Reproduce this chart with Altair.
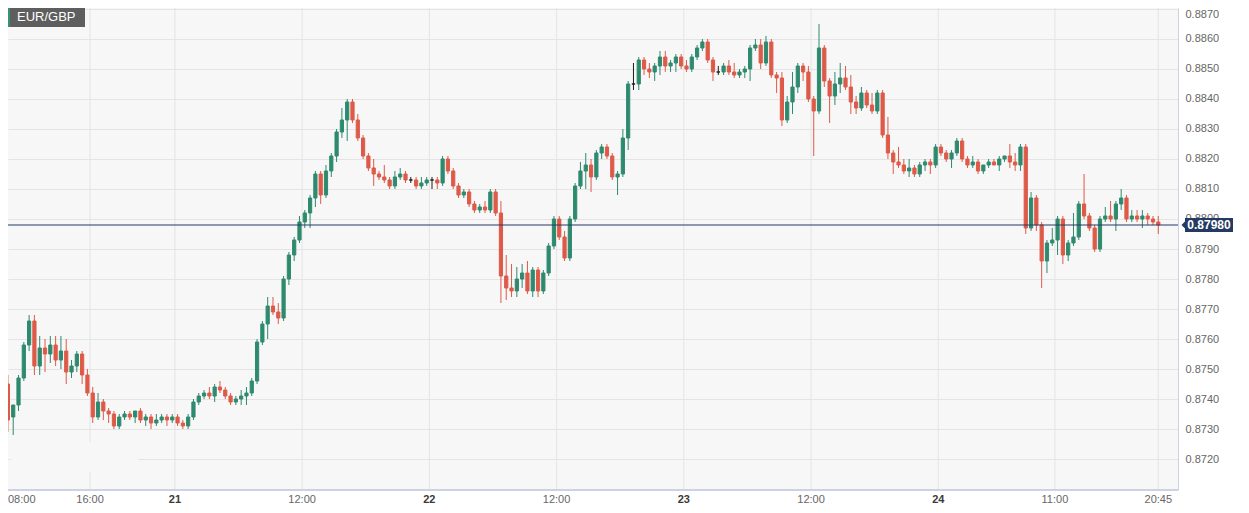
import altair as alt
import pandas as pd
import numpy as np

GREEN = "#2e8a6e"
RED = "#de5a48"
DOJI = "#1c1c1c"
NAVY = "#243a63"

# 30-minute EUR/GBP candles, 20th 08:00 -> 24th 20:30 (one line per day)
open_ = [
    0.8745,0.8734,0.8738,0.8747,0.8758,0.8766,0.8751,0.8757,0.8755,0.8758,0.8753,0.8756,0.8749,0.8751,0.8755,0.8748,0.8742,0.8734,0.8739,0.8736,0.8735,0.8731,0.8734,0.8735,0.8734,0.8736,0.8733,0.8734,0.8732,0.8733,0.8734,0.8733,
    0.8734,0.8732,0.8731,0.8734,0.8739,0.8741,0.8742,0.8741,0.8744,0.8743,0.8741,0.8739,0.8740,0.8741,0.8742,0.8746,0.8759,0.8765,0.8771,0.8769,0.8767,0.8780,0.8788,0.8793,0.8799,0.8802,0.8807,0.8815,0.8808,0.8816,0.8821,0.8829,0.8833,0.8839,0.8833,0.8827,0.8821,0.8817,0.8815,0.8814,0.8813,0.8811,0.8814,0.8815,0.8813,0.8813,0.8811,0.8812,
    0.8813,0.8813,0.8812,0.8820,0.8816,0.8811,0.8808,0.8809,0.8805,0.8803,0.8804,0.8803,0.8809,0.8802,0.8781,0.8777,0.8776,0.8780,0.8782,0.8776,0.8783,0.8776,0.8782,0.8791,0.8800,0.8794,0.8787,0.8800,0.8811,0.8816,0.8818,0.8814,0.8822,0.8824,0.8821,0.8814,0.8815,0.8827,0.8845,0.8845,0.8853,0.8850,0.8849,0.8851,0.8854,0.8851,0.8852,0.8854,
    0.8851,0.8850,0.8854,0.8857,0.8859,0.8853,0.8849,0.8849,0.8851,0.8849,0.8848,0.8849,0.8850,0.8857,0.8858,0.8852,0.8859,0.8848,0.8847,0.8833,0.8839,0.8844,0.8851,0.8849,0.8840,0.8836,0.8857,0.8846,0.8841,0.8845,0.8847,0.8844,0.8839,0.8837,0.8842,0.8838,0.8836,0.8842,0.8828,0.8822,0.8819,0.8818,0.8816,0.8817,0.8815,0.8818,0.8819,0.8818,
    0.8824,0.8822,0.8820,0.8822,0.8826,0.8820,0.8818,0.8819,0.8816,0.8818,0.8819,0.8818,0.8820,0.8821,0.8819,0.8818,0.8824,0.8797,0.8807,0.8798,0.8786,0.8792,0.8793,0.8800,0.8788,0.8792,0.8794,0.8805,0.8801,0.8797,0.8790,0.8800,0.8801,0.8800,0.8805,0.8807,0.8800,0.8801,0.8800,0.8801,0.8800,0.8799,
]
high = [
    0.8748,0.8738,0.8748,0.8759,0.8768,0.8768,0.8761,0.8760,0.8761,0.8761,0.8761,0.8760,0.8753,0.8756,0.8756,0.8750,0.8744,0.8742,0.8740,0.8737,0.8736,0.8735,0.8736,0.8736,0.8736,0.8737,0.8735,0.8735,0.8735,0.8735,0.8735,0.8735,
    0.8735,0.8733,0.8735,0.8740,0.8742,0.8743,0.8744,0.8745,0.8746,0.8744,0.8742,0.8741,0.8743,0.8744,0.8747,0.8760,0.8766,0.8774,0.8774,0.8772,0.8781,0.8789,0.8794,0.8801,0.8803,0.8808,0.8816,0.8816,0.8818,0.8822,0.8830,0.8837,0.8840,0.8840,0.8835,0.8828,0.8822,0.8820,0.8816,0.8818,0.8814,0.8816,0.8817,0.8816,0.8814,0.8814,0.8814,0.8814,
    0.8814,0.8814,0.8821,0.8821,0.8817,0.8812,0.8810,0.8810,0.8806,0.8805,0.8806,0.8810,0.8810,0.8806,0.8788,0.8785,0.8784,0.8785,0.8786,0.8784,0.8784,0.8783,0.8792,0.8801,0.8801,0.8796,0.8801,0.8812,0.8819,0.8822,0.8820,0.8823,0.8825,0.8825,0.8822,0.8816,0.8830,0.8846,0.8852,0.8854,0.8854,0.8852,0.8852,0.8856,0.8856,0.8853,0.8855,0.8855,
    0.8853,0.8855,0.8858,0.8860,0.8860,0.8854,0.8851,0.8852,0.8853,0.8852,0.8850,0.8851,0.8858,0.8860,0.8860,0.8861,0.8860,0.8849,0.8849,0.8841,0.8849,0.8852,0.8852,0.8851,0.8841,0.8865,0.8858,0.8847,0.8849,0.8852,0.8851,0.8848,0.8841,0.8844,0.8843,0.8842,0.8843,0.8843,0.8834,0.8823,0.8824,0.8820,0.8820,0.8818,0.8819,0.8820,0.8820,0.8825,
    0.8825,0.8823,0.8823,0.8827,0.8827,0.8821,0.8821,0.8820,0.8818,0.8820,0.8820,0.8821,0.8821,0.8825,0.8822,0.8825,0.8825,0.8809,0.8808,0.8799,0.8793,0.8797,0.8801,0.8801,0.8793,0.8802,0.8806,0.8815,0.8802,0.8798,0.8801,0.8804,0.8806,0.8806,0.8810,0.8808,0.8803,0.8803,0.8803,0.8802,0.8801,0.8801,
]
low = [
    0.8729,0.8728,0.8736,0.8746,0.8756,0.8748,0.8748,0.8749,0.8752,0.8751,0.8750,0.8745,0.8747,0.8749,0.8745,0.8741,0.8732,0.8733,0.8733,0.8732,0.8730,0.8730,0.8733,0.8733,0.8732,0.8732,0.8731,0.8730,0.8731,0.8732,0.8731,0.8732,
    0.8731,0.8730,0.8730,0.8733,0.8738,0.8740,0.8740,0.8739,0.8742,0.8740,0.8738,0.8738,0.8738,0.8738,0.8741,0.8745,0.8758,0.8760,0.8768,0.8765,0.8766,0.8778,0.8786,0.8792,0.8797,0.8797,0.8804,0.8805,0.8807,0.8814,0.8819,0.8827,0.8826,0.8832,0.8826,0.8820,0.8816,0.8811,0.8813,0.8812,0.8810,0.8810,0.8813,0.8812,0.8812,0.8810,0.8810,0.8811,
    0.8810,0.8810,0.8811,0.8815,0.8810,0.8807,0.8807,0.8804,0.8802,0.8802,0.8802,0.8802,0.8801,0.8772,0.8773,0.8774,0.8774,0.8777,0.8775,0.8774,0.8774,0.8775,0.8781,0.8790,0.8793,0.8786,0.8786,0.8799,0.8810,0.8810,0.8809,0.8813,0.8820,0.8820,0.8813,0.8808,0.8814,0.8823,0.8843,0.8843,0.8848,0.8847,0.8846,0.8848,0.8849,0.8849,0.8849,0.8850,
    0.8849,0.8849,0.8853,0.8856,0.8852,0.8846,0.8848,0.8848,0.8848,0.8847,0.8847,0.8847,0.8846,0.8856,0.8850,0.8851,0.8847,0.8842,0.8831,0.8832,0.8835,0.8842,0.8846,0.8839,0.8821,0.8835,0.8844,0.8832,0.8838,0.8842,0.8843,0.8835,0.8835,0.8836,0.8837,0.8835,0.8835,0.8827,0.8820,0.8815,0.8817,0.8815,0.8814,0.8814,0.8814,0.8816,0.8815,0.8817,
    0.8821,0.8819,0.8817,0.8821,0.8819,0.8817,0.8817,0.8815,0.8815,0.8817,0.8818,0.8816,0.8819,0.8817,0.8816,0.8816,0.8795,0.8796,0.8796,0.8777,0.8782,0.8791,0.8788,0.8785,0.8786,0.8791,0.8793,0.8800,0.8796,0.8789,0.8789,0.8799,0.8799,0.8796,0.8803,0.8799,0.8799,0.8799,0.8797,0.8798,0.8798,0.8795,
]
close = [
    0.8733,0.8738,0.8747,0.8758,0.8766,0.8751,0.8757,0.8755,0.8758,0.8753,0.8756,0.8749,0.8751,0.8755,0.8748,0.8742,0.8734,0.8739,0.8736,0.8735,0.8731,0.8734,0.8735,0.8734,0.8736,0.8733,0.8734,0.8732,0.8733,0.8734,0.8733,0.8734,
    0.8732,0.8731,0.8734,0.8739,0.8741,0.8742,0.8741,0.8744,0.8743,0.8741,0.8739,0.8740,0.8741,0.8742,0.8746,0.8759,0.8765,0.8771,0.8769,0.8767,0.8780,0.8788,0.8793,0.8799,0.8802,0.8807,0.8815,0.8808,0.8816,0.8821,0.8829,0.8833,0.8839,0.8833,0.8827,0.8821,0.8817,0.8815,0.8814,0.8813,0.8811,0.8814,0.8815,0.8813,0.8813,0.8811,0.8812,0.8813,
    0.8813,0.8812,0.8820,0.8816,0.8811,0.8808,0.8809,0.8805,0.8803,0.8804,0.8803,0.8809,0.8802,0.8781,0.8777,0.8776,0.8780,0.8782,0.8776,0.8783,0.8776,0.8782,0.8791,0.8800,0.8794,0.8787,0.8800,0.8811,0.8816,0.8818,0.8814,0.8822,0.8824,0.8821,0.8814,0.8815,0.8827,0.8845,0.8845,0.8853,0.8850,0.8849,0.8851,0.8854,0.8851,0.8852,0.8854,0.8851,
    0.8850,0.8854,0.8857,0.8859,0.8853,0.8849,0.8849,0.8851,0.8849,0.8848,0.8849,0.8850,0.8857,0.8858,0.8852,0.8859,0.8848,0.8847,0.8833,0.8839,0.8844,0.8851,0.8849,0.8840,0.8836,0.8857,0.8846,0.8841,0.8845,0.8847,0.8844,0.8839,0.8837,0.8842,0.8838,0.8836,0.8842,0.8828,0.8822,0.8819,0.8818,0.8816,0.8817,0.8815,0.8818,0.8819,0.8818,0.8824,
    0.8822,0.8820,0.8822,0.8826,0.8820,0.8818,0.8819,0.8816,0.8818,0.8819,0.8818,0.8820,0.8821,0.8819,0.8818,0.8824,0.8797,0.8807,0.8798,0.8786,0.8792,0.8793,0.8800,0.8788,0.8792,0.8794,0.8805,0.8801,0.8797,0.8790,0.8800,0.8801,0.8800,0.8805,0.8807,0.8800,0.8801,0.8800,0.8801,0.8800,0.8799,0.8798,
]

# y-axis tick labels
y_ticks = [0.8720, 0.8730, 0.8740, 0.8750, 0.8760, 0.8770, 0.8780, 0.8790,
           0.8800, 0.8810, 0.8820, 0.8830, 0.8840, 0.8850, 0.8860, 0.8870]
# x-axis labels: hours after the 21st 00:00
x_label_t = [-8, 0, 12, 24, 36, 48, 60, 72, 83, 92.75]
x_label_text = ["16:00", "21", "12:00", "22", "12:00", "23", "12:00", "24", "11:00", "20:45"]
x_label_bold = [False, True, False, True, False, True, False, True, False, False]
first_label = "08:00"
symbol = "EUR/GBP"

times = pd.date_range("2023-03-20 08:00", periods=len(close), freq="30min")
t_hours = (times - pd.Timestamp("2023-03-21 00:00")) / pd.Timedelta(hours=1) + 0.25

df = pd.DataFrame({"t": t_hours, "open": open_, "high": high, "low": low, "close": close})
df["dir"] = np.where(df["close"] > df["open"], "up", np.where(df["close"] < df["open"], "down", "flat"))
last = df.tail(1)

labels_df = pd.DataFrame({"t": x_label_t, "label": x_label_text, "bold": x_label_bold})

W, H = 1170, 482
x_scale = alt.Scale(domain=[-15.27, 94.137], nice=False, zero=False)
y_scale = alt.Scale(domain=[0.870967, 0.887033], nice=False, zero=False)
x_enc = alt.X("t:Q", scale=x_scale, axis=None)
y_axis = alt.Axis(orient="right", values=y_ticks, format=".4f", title=None, ticks=False,
                  labelPadding=7, labelFontSize=11, labelColor="#666666",
                  labelFont="Liberation Sans", gridColor="#e4e4e4", domainColor="#cbd2e2",
                  labelFlush=5)
color_scale = alt.Scale(domain=["up", "down", "flat"], range=[GREEN, RED, DOJI])

vgrid = alt.Chart(labels_df).mark_rule(color="#e4e4e4", strokeWidth=1).encode(x=x_enc)

cover = alt.Chart(labels_df).mark_rect(color="#f7f7f7").encode(
    x=alt.value(3), x2=alt.value(130), y=alt.value(434), y2=alt.value(464))

base = alt.Chart(df)
wick = base.mark_rule(strokeWidth=1).encode(
    x=x_enc,
    y=alt.Y("low:Q", scale=y_scale, axis=y_axis),
    y2="high:Q",
    color=alt.Color("dir:N", scale=color_scale, legend=None),
)
body = base.mark_bar(size=3.2, strokeWidth=1).encode(
    x=x_enc,
    y=alt.Y("open:Q", scale=y_scale, axis=y_axis),
    y2="close:Q",
    color=alt.Color("dir:N", scale=color_scale, legend=None),
    stroke=alt.Stroke("dir:N", scale=color_scale, legend=None),
)

bottom_line = alt.Chart(labels_df).mark_rule(color="#cbd2e2", strokeWidth=1).encode(
    x=alt.value(0), x2=alt.value(W), y=alt.value(H))

price_line = alt.Chart(last).mark_rule(color=NAVY, strokeWidth=1.2).encode(
    y=alt.Y("close:Q", scale=y_scale, axis=y_axis))
tag_rect = alt.Chart(last).mark_rect(color=NAVY).encode(
    x=alt.value(1177), x2=alt.value(1225), y=alt.value(210), y2=alt.value(224))
tag_arrow = alt.Chart(last).mark_point(shape="M -1 0 L 0 -1 L 0 1 Z", filled=True, size=64,
                                       color=NAVY, opacity=1).encode(
    x=alt.value(1177.5), y=alt.Y("close:Q", scale=y_scale, axis=y_axis))
tag_text = alt.Chart(last).mark_text(color="white", fontWeight="bold", fontSize=12,
                                     font="Liberation Sans", baseline="middle").encode(
    x=alt.value(1201), y=alt.Y("close:Q", scale=y_scale, axis=y_axis),
    text=alt.Text("close:Q", format=".5f"))

sym_box = alt.Chart(last).mark_rect(color="#5e5e5e").encode(
    x=alt.value(0), x2=alt.value(77), y=alt.value(0), y2=alt.value(19))
sym_stripe = alt.Chart(last).mark_rect(color="#3a9274").encode(
    x=alt.value(0), x2=alt.value(2), y=alt.value(0), y2=alt.value(19))
sym_text = alt.Chart(last).mark_text(color="white", fontSize=13, font="Liberation Sans",
                                     align="left", baseline="middle").encode(
    x=alt.value(9), y=alt.value(9), text=alt.value(symbol))

lab_norm = alt.Chart(labels_df).transform_filter("!datum.bold").mark_text(
    fontSize=11, font="Liberation Sans", color="#666666", baseline="middle").encode(
    x=x_enc, y=alt.value(H + 10), text="label:N")
lab_bold = alt.Chart(labels_df).transform_filter("datum.bold").mark_text(
    fontSize=11, font="Liberation Sans", color="#3a3a3a", fontWeight="bold",
    baseline="middle").encode(
    x=x_enc, y=alt.value(H + 10), text="label:N")
lab_first = alt.Chart(last).mark_text(
    fontSize=11, font="Liberation Sans", color="#666666", baseline="middle",
    align="left").encode(x=alt.value(0), y=alt.value(H + 10), text=alt.value(first_label))

chart = alt.layer(
    vgrid, cover, wick, body, bottom_line, price_line, tag_rect, tag_arrow, tag_text,
    sym_box, sym_stripe, sym_text, lab_norm, lab_bold, lab_first,
).properties(
    width=W, height=H,
    autosize=alt.AutoSizeParams(type="none"),
    padding={"left": 0, "top": 0, "right": 62, "bottom": 15},
    background="white",
).configure_view(fill="#f7f7f7", strokeWidth=0)

chart.save("out.html", embed_options={"renderer": "svg", "actions": False})
